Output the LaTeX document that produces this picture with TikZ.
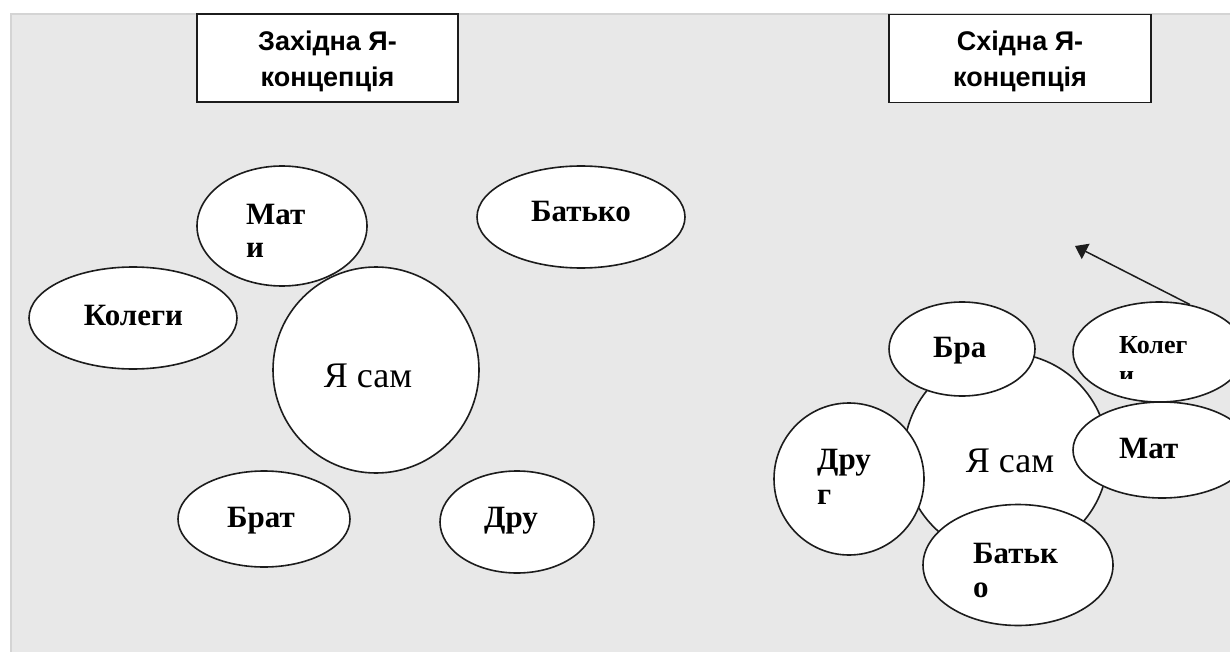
\documentclass[tikz,border=0pt]{standalone}
\usepackage{fontspec}
\setmainfont{Liberation Serif}
\newfontfamily\headfont{Liberation Sans}
\usetikzlibrary{shapes.geometric,arrows.meta}
\definecolor{panel}{RGB}{232,232,232}
\definecolor{panelrule}{RGB}{212,212,212}
\definecolor{ink}{RGB}{28,28,28}

\begin{document}
\begin{tikzpicture}[x=1pt,y=-1pt,
  bubble/.style={ellipse, draw=ink, line width=1.6pt, fill=white, inner sep=0pt},
  selfbubble/.style={circle, draw=ink, line width=1.6pt, fill=white, inner sep=0pt},
  titlebox/.style={rectangle, draw=ink, line width=1.8pt, fill=white, inner sep=0pt},
  titletext/.style={inner sep=0pt, align=center, font=\headfont\bfseries\fontsize{27}{36}\selectfont},
  word/.style={inner sep=0pt, anchor=base west, font=\bfseries\fontsize{31}{33}\selectfont},
  smallword/.style={word, font=\bfseries\fontsize{26}{30}\selectfont},
  selfword/.style={inner sep=0pt, anchor=base, font=\fontsize{36}{38}\selectfont},
  pointer/.style={draw=ink, line width=1.5pt, -{Triangle[length=12pt,width=17pt]}}
]
\useasboundingbox (0,0) rectangle (1230,652);
\fill[white] (0,0) rectangle (1230,652);
\filldraw[fill=panel, draw=panelrule, line width=2pt] (11,14) rectangle (1240,662);

% headings
\node[titlebox, minimum width=261, minimum height=88] (west) at (327.5,58) {};
\node[titletext] (westt) at (327.5,61) {Західна Я-\\концепція};
\node[titlebox, minimum width=262, minimum height=88] (east) at (1020,58.5) {};
\node[titletext] (eastt) at (1020,61) {Східна Я-\\концепція};

% western self-concept: separate bubbles around the self
\node[bubble, minimum width=170, minimum height=120] (matiL) at (282,226) {};
\node[bubble, minimum width=208, minimum height=102] (kolegiL) at (133,318) {};
\node[bubble, minimum width=208, minimum height=102] (batkoL) at (581,217) {};
\node[selfbubble, minimum size=206] (selfL) at (376,370) {};
\node[bubble, minimum width=172, minimum height=96] (bratL) at (264,519) {};
\node[bubble, minimum width=154, minimum height=102] (druhL) at (517,522) {};

\node[word] (matiLa) at (246,225) {Мат};
\node[word] (matiLb) at (246,258) {и};
\node[word, anchor=base] (kolegiLt) at (133.5,325) {Колеги};
\node[word, anchor=base] (batkoLt) at (581,222) {Батько};
\node[selfword] (selfLt) at (368,387) {Я сам};
\node[word, anchor=base] (bratLt) at (261,527) {Брат};
\node[word, anchor=base] (druhLt) at (511,527) {Дру};

% eastern self-concept: bubbles overlapping the self
\node[selfbubble, minimum size=204] (selfR) at (1006,455) {};
\node[bubble, minimum width=146, minimum height=94] (bratR) at (962,349) {};
\node[bubble, minimum width=172, minimum height=100] (kolegiR) at (1159,352) {};
\node[bubble, minimum width=178, minimum height=96] (matiR) at (1162,450) {};
\node[bubble, minimum width=150, minimum height=152] (druhR) at (849,479) {};
\node[bubble, minimum width=190, minimum height=121] (batkoR) at (1018,565) {};

\node[word] (bratRt) at (933,357) {Бра};
\node[smallword] (kolegiRa) at (1119,353) {Колег};
\begin{scope}
  \clip (1100,340) rectangle (1200,378);
  \node[smallword] (kolegiRb) at (1119,383) {и};
\end{scope}
\node[word] (matiRt) at (1119,458) {Мат};
\node[word] (druhRa) at (817,469) {Дру};
\node[word] (druhRb) at (817,504) {г};
\node[selfword] (selfRt) at (1010,472) {Я сам};
\node[word] (batkoRa) at (973,563) {Батьк};
\node[word] (batkoRb) at (973,597) {о};

\coordinate (ptr) at (1075,246);
\draw[pointer] (kolegiR.57) -- (ptr);
\end{tikzpicture}
\end{document}
